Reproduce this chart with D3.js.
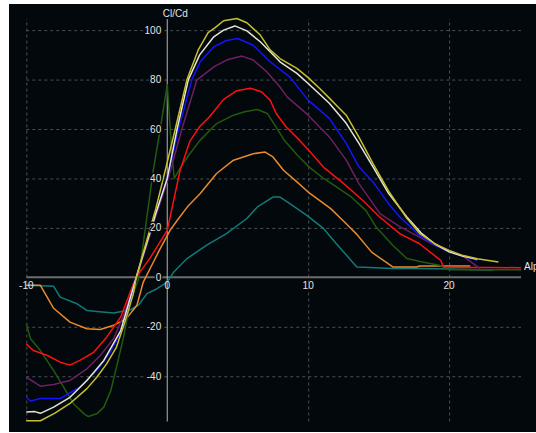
<!DOCTYPE html>
<html>
<head>
<meta charset="utf-8">
<script src="https://cdn.jsdelivr.net/npm/d3@7"></script>
<style>
  body { margin: 0; background: #fff; }
  text { font-family: "Liberation Sans", Arial, sans-serif; font-size: 10px; fill: #e4e4e4; }
  .grid line { stroke: #4b5053; stroke-dasharray: 3,3; }
  .grid path { display: none; }
</style>
</head>
<body>
<script>
var W = 536, H = 433;

// tick labels
var xTicks = [-10, 0, 10, 20];
var yTicks = [-40, -20, 0, 20, 40, 60, 80, 100];
var xGrid = [-10, 10, 20];
var yGrid = [-40, -20, 20, 40, 60, 80, 100];

// polars: alpha vs Cl/Cd, one pair of arrays per curve
var tealA = [-10, -8.06, -7.6, -6.4, -5.7, -5, -3.8, -2.6, -2.0, -1.44, -0.73, 0, 0.45, 1.4, 2.8, 4.2, 5.65, 6.4, 7.5, 8.0, 8.7, 9.9, 11.1, 12.0, 13.45, 14.4, 16, 18, 20, 22, 23.1];
var tealV = [-3.2, -3.6, -8, -10.7, -13.4, -13.8, -14.4, -13.1, -11, -6.6, -4.6, -1.9, 2.1, 7.6, 13, 17.7, 23.8, 28.5, 32.5, 32.5, 29.8, 25.1, 19.7, 13.6, 4.2, 4.0, 3.6, 3.6, 3.4, 3.1, 3.0];

var orangeA = [-10, -9.0, -8.06, -6.9, -5.7, -4.75, -3.8, -2.9, -2.15, -1.7, -1.0, -0.5, 0.2, 0.7, 1.5, 2.34, 3.5, 4.7, 6.1, 6.95, 7.5, 8.25, 9.2, 10, 11.6, 12.7, 13.4, 14.5, 16.0, 17.7, 17.9, 20.3, 21.5];
var orangeV = [-3.2, -3.2, -12.5, -18.1, -20.8, -21.1, -19.4, -16.7, -11.3, -1.9, 6, 11.6, 19, 23, 29, 33.9, 42, 47.4, 50, 50.7, 48.7, 43.3, 38.6, 34.5, 27.8, 21.7, 17.7, 10.2, 4.2, 4.2, 4.6, 4.6, 4.6];

var greenA = [-10, -9.7, -9, -8.06, -7.35, -6.65, -5.9, -5.6, -5, -4.5, -4.0, -3.6, -3.1, -2.6, -2.05, -1.5, -1.0, -0.5, 0, 0.33, 0.5, 1.0, 1.6, 2.34, 3.5, 4.7, 5.5, 6.4, 7.1, 7.7, 8.3, 9.3, 10.1, 11.1, 12.0, 13.0, 14.1, 14.8, 16.0, 17.0, 18.1, 19.3, 20, 22, 25.1];
var greenV = [-18.8, -24.8, -29.6, -37.7, -44.4, -51.1, -55.2, -56.3, -55.2, -52.5, -45.7, -36.3, -24.2, -9.3, -1, 22, 43, 60, 78, 50, 40, 45, 50, 55.5, 62.2, 65.6, 67, 67.9, 66.3, 61, 55.5, 49, 44.5, 40, 36.6, 32.8, 27, 20.5, 13, 7.6, 6.2, 4.9, 3.1, 3.1, 3.1];

var redA = [-10, -9.5, -8.5, -7.6, -6.9, -6.2, -5.2, -4.3, -3.3, -2.4, -2.2, -1.2, 0, 0.9, 1.6, 2.3, 3.0, 4.0, 4.94, 5.9, 6.7, 7.3, 7.73, 8.44, 9.38, 10.1, 11.1, 12.5, 13.9, 15.05, 16.5, 17.9, 19.4, 19.6, 21, 23, 25.1];
var redV = [-26.9, -29.6, -31.6, -34.3, -35.5, -33.6, -30.2, -24.2, -16, -2.6, 0, 8, 19, 43, 55, 61, 65, 72, 75.5, 76.5, 75, 71.7, 66.3, 60.8, 55.5, 51, 44.5, 38, 31, 24.5, 17.7, 13.6, 6.9, 4.2, 4.0, 4.0, 3.9];

var purpleA = [-10, -9, -8.06, -6.9, -5.7, -4.75, -3.8, -3.0, -2.2, -1.5, -0.8, 0.07, 1.04, 2.1, 3.3, 4.2, 5.3, 6.1, 7.07, 8.0, 8.5, 10, 11.5, 12.7, 13.6, 14.6, 15.1, 16.5, 17.9, 19, 20, 21, 22.2];
var purpleV = [-40.4, -44, -43.3, -41.7, -37, -31.6, -24.7, -14, 0, 12, 25, 40, 60, 79.8, 85.1, 87.9, 89.5, 87.9, 83.1, 77, 73, 65.6, 56.8, 47.4, 37.9, 29.8, 25.8, 20.5, 16.3, 13, 10.9, 8.5, 3.5];

var blueA = [-10, -9.7, -9, -7.6, -6.2, -5, -4.04, -3.1, -2.2, -1.5, -0.8, 0, 0.8, 1.75, 2.34, 3.3, 4.2, 5.0, 6.1, 7.3, 8.7, 10, 11.5, 12.7, 13.6, 14.6, 15.7, 16.5, 17.9, 19, 20, 21, 22];
var blueV = [-48.5, -50, -49, -49, -44.4, -37.6, -30.2, -20, 0, 13, 26, 40, 60, 80, 87.2, 93.2, 95.8, 96.6, 93.9, 87.2, 81, 71.7, 64.3, 54.2, 44.7, 38.6, 29.8, 24.4, 17, 13, 10.3, 8.5, 6.9];

var whiteA = [-10, -9.4, -9.0, -8.06, -6.9, -5.7, -4.5, -3.3, -2.2, -1.5, -0.8, 0, 0.7, 1.5, 2.3, 3.3, 4.0, 4.8, 5.65, 6.6, 8.0, 9.2, 10, 11.5, 12.7, 13.6, 14.6, 15.7, 17, 18, 19, 20, 21, 22];
var whiteV = [-54.5, -54.3, -55, -52.5, -48.5, -41.7, -33.6, -21.5, 0, 13, 26, 40, 60, 80, 90, 97.3, 100, 101.7, 99.7, 95.3, 87.2, 82.5, 78.4, 70.4, 62.3, 54.2, 44.7, 34, 24.4, 18, 13.5, 10.3, 8.5, 7.3];

var yellowA = [-10, -9, -8, -6.9, -5.7, -5, -4.3, -3.6, -3.0, -2.4, -2.2, -1.5, -0.8, -0.15, 0.57, 1.4, 2.2, 2.9, 3.4, 4.0, 4.94, 5.65, 6.6, 7.3, 8.0, 9.2, 10, 10.8, 11.5, 12.1, 12.7, 13.6, 14.6, 15.7, 17.0, 17.9, 19, 20, 21, 22, 23.5];
var yellowV = [-58, -58, -55, -51, -45, -40.4, -35, -28.2, -18, -6.5, 0, 14, 28, 43, 60, 80, 92, 99, 101, 103.8, 104.7, 103, 98, 92, 88.5, 84.5, 80.8, 76.5, 72.5, 69, 65.6, 56.7, 46, 35, 23.9, 17.8, 13.5, 10.9, 8.8, 7.5, 6.2];

var series = [
  {a: tealA, v: tealV, color: "#127a78"},
  {a: orangeA, v: orangeV, color: "#e98a2b"},
  {a: greenA, v: greenV, color: "#225b0c"},
  {a: redA, v: redV, color: "#ff1010"},
  {a: purpleA, v: purpleV, color: "#6e1f63"},
  {a: blueA, v: blueV, color: "#1414ff"},
  {a: whiteA, v: whiteV, color: "#e6e6d6"},
  {a: yellowA, v: yellowV, color: "#c8bf2e"}
];

var svg = d3.select("body").append("svg")
    .attr("width", W)
    .attr("height", H);

svg.append("rect")
    .attr("x", 9).attr("y", 4)
    .attr("width", W - 9).attr("height", 428)
    .attr("fill", "#02080c");

var x = d3.scaleLinear().domain([-10, 25.1]).range([26.3, 521]);
var y = d3.scaleLinear().domain([-58.3, 104.5]).range([421.5, 19]);

// dashed grid
svg.append("g")
    .attr("class", "grid")
    .attr("transform", "translate(0," + y(-58.3) + ")")
    .call(d3.axisBottom(x).tickValues(xGrid).tickFormat("").tickSize(-(y(-58.3) - y(104.5))));

svg.append("g")
    .attr("class", "grid")
    .attr("transform", "translate(" + x(-10) + ",0)")
    .call(d3.axisLeft(y).tickValues(yGrid).tickFormat("").tickSize(-(x(25.1) - x(-10))));

// axis lines crossing at the origin
svg.append("line")
    .attr("x1", x(-10)).attr("x2", x(25.1))
    .attr("y1", y(0)).attr("y2", y(0))
    .attr("stroke", "#6c6c6c").attr("stroke-width", 2);

svg.append("line")
    .attr("x1", x(0)).attr("x2", x(0))
    .attr("y1", y(104.5)).attr("y2", y(-58.3))
    .attr("stroke", "#b4b4b4").attr("stroke-width", 1);

// curves
var line = d3.line()
    .x(function(d) { return x(d[0]); })
    .y(function(d) { return y(d[1]); });

series.forEach(function(s) {
    var pts = s.a.map(function(a, i) { return [a, s.v[i]]; });
    svg.append("path")
        .datum(pts)
        .attr("d", line)
        .attr("fill", "none")
        .attr("stroke", s.color)
        .attr("stroke-width", 1.5)
        .attr("stroke-linejoin", "round");
});

// tick labels, with a dark halo that cuts the grid like the original
svg.selectAll(".ylab")
    .data(yTicks)
    .enter().append("text")
    .attr("class", "ylab")
    .attr("x", x(0) - 6)
    .attr("y", function(d) { return y(d); })
    .attr("dy", "0.35em")
    .attr("text-anchor", "end")
    .attr("stroke", "#02080c").attr("stroke-width", 3)
    .attr("paint-order", "stroke")
    .text(function(d) { return d; });

svg.selectAll(".xlab")
    .data(xTicks)
    .enter().append("text")
    .attr("class", "xlab")
    .attr("x", function(d) { return x(d); })
    .attr("y", y(0) + 12)
    .attr("text-anchor", "middle")
    .text(function(d) { return d; });

svg.append("text")
    .attr("x", x(0) + 8)
    .attr("y", 16.5)
    .attr("text-anchor", "middle")
    .text("Cl/Cd");

svg.append("text")
    .attr("x", 524)
    .attr("y", y(0) - 7)
    .text("Alpha");
</script>
</body>
</html>
